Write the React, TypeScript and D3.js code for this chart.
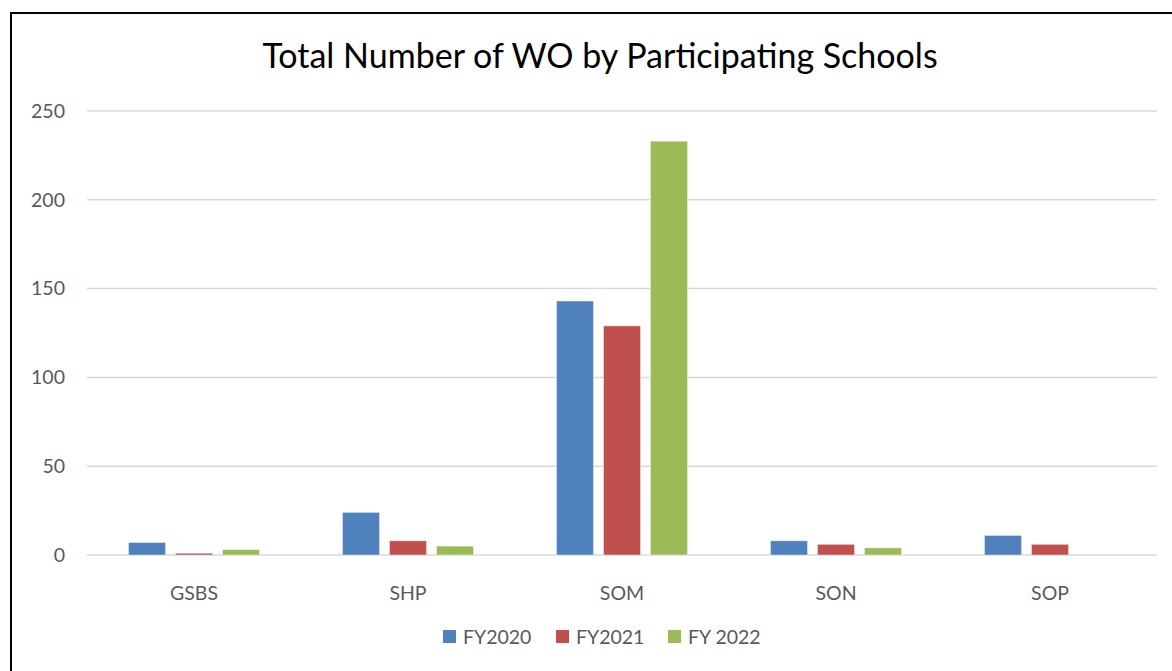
import React, { useEffect, useRef } from "react";
import * as d3 from "d3";

const schools = ["GSBS", "SHP", "SOM", "SON", "SOP"];
const seriesNames = ["FY2020", "FY2021", "FY 2022"];
const fy2020 = [7, 24, 143, 8, 11];
const fy2021 = [1, 8, 129, 6, 6];
const fy2022 = [3, 5, 233, 4, 0];
const yTicks = [0, 50, 100, 150, 200, 250];
const colors = ["#4F81BD", "#C0504D", "#9BBB59"];

const App = () => {
  const ref = useRef<SVGSVGElement>(null);

  useEffect(() => {
    const svg = d3.select(ref.current);
    svg.selectAll("*").remove();

    const width = 1172;
    const height = 671;
    const margin = { left: 87, right: 15, top: 111, bottom: 116 };
    const font = "Lato, 'Open Sans', sans-serif";

    svg.attr("width", width).attr("height", height);

    // outer frame
    svg
      .append("rect")
      .attr("x", 11)
      .attr("y", 13)
      .attr("width", width + 20)
      .attr("height", height + 20)
      .attr("fill", "#fff")
      .attr("stroke", "#000")
      .attr("stroke-width", 2);

    const series = [fy2020, fy2021, fy2022];

    const x0 = d3
      .scaleBand()
      .domain(schools)
      .range([margin.left, width - margin.right])
      .paddingInner(0.388)
      .paddingOuter(0.194);

    const x1 = d3
      .scaleBand()
      .domain(seriesNames)
      .range([0, x0.bandwidth()])
      .paddingInner(0.213);

    const y = d3
      .scaleLinear()
      .domain([0, 250])
      .range([height - margin.bottom, margin.top]);

    // gridlines
    svg
      .append("g")
      .selectAll("line")
      .data(yTicks)
      .enter()
      .append("line")
      .attr("x1", margin.left)
      .attr("x2", width - margin.right)
      .attr("y1", (d) => y(d))
      .attr("y2", (d) => y(d))
      .attr("stroke", "#D9D9D9")
      .attr("stroke-width", 1.5);

    // y labels
    svg
      .append("g")
      .selectAll("text")
      .data(yTicks)
      .enter()
      .append("text")
      .attr("x", 65)
      .attr("y", (d) => y(d))
      .attr("dy", "0.35em")
      .attr("text-anchor", "end")
      .attr("font-family", font)
      .attr("font-size", 19.5)
      .attr("fill", "#595959")
      .text((d) => d);

    // bars
    const groups = svg
      .append("g")
      .selectAll("g")
      .data(schools)
      .enter()
      .append("g")
      .attr("transform", (d) => `translate(${x0(d)},0)`);

    groups
      .selectAll("rect")
      .data((d, i) => series.map((s, k) => ({ key: seriesNames[k], value: s[i], k })))
      .enter()
      .append("rect")
      .filter((d) => d.value > 0)
      .attr("x", (d) => x1(d.key)!)
      .attr("width", x1.bandwidth())
      .attr("y", (d) => y(d.value))
      .attr("height", (d) => y(0) - y(d.value))
      .attr("fill", (d) => colors[d.k])
      .attr("stroke", "#fff")
      .attr("stroke-opacity", 0.5)
      .attr("stroke-width", 0.75);

    // x labels
    svg
      .append("g")
      .selectAll("text")
      .data(schools)
      .enter()
      .append("text")
      .attr("x", (d) => x0(d)! + x0.bandwidth() / 2)
      .attr("y", 593)
      .attr("dy", "0.35em")
      .attr("text-anchor", "middle")
      .attr("font-family", font)
      .attr("font-size", 19.5)
      .attr("fill", "#595959")
      .text((d) => d);

    // title
    svg
      .append("text")
      .attr("x", 600)
      .attr("y", 68)
      .attr("text-anchor", "middle")
      .attr("font-family", font)
      .attr("font-size", 34)
      .attr("fill", "#000")
      .text("Total Number of WO by Participating Schools");

    // legend
    const legendX = [443, 556, 668];
    const legend = svg
      .append("g")
      .selectAll("g")
      .data(seriesNames)
      .enter()
      .append("g")
      .attr("transform", (d, i) => `translate(${legendX[i]},630)`);

    legend
      .append("rect")
      .attr("width", 13)
      .attr("height", 13)
      .attr("fill", (d, i) => colors[i]);

    legend
      .append("text")
      .attr("x", 20)
      .attr("y", 7)
      .attr("dy", "0.35em")
      .attr("font-family", font)
      .attr("font-size", 19.5)
      .attr("fill", "#595959")
      .text((d) => d);
  }, []);

  return (
    <svg
      ref={ref}
      style={{ position: "absolute", left: 0, top: 0, display: "block" }}
    ></svg>
  );
};

export default App;
